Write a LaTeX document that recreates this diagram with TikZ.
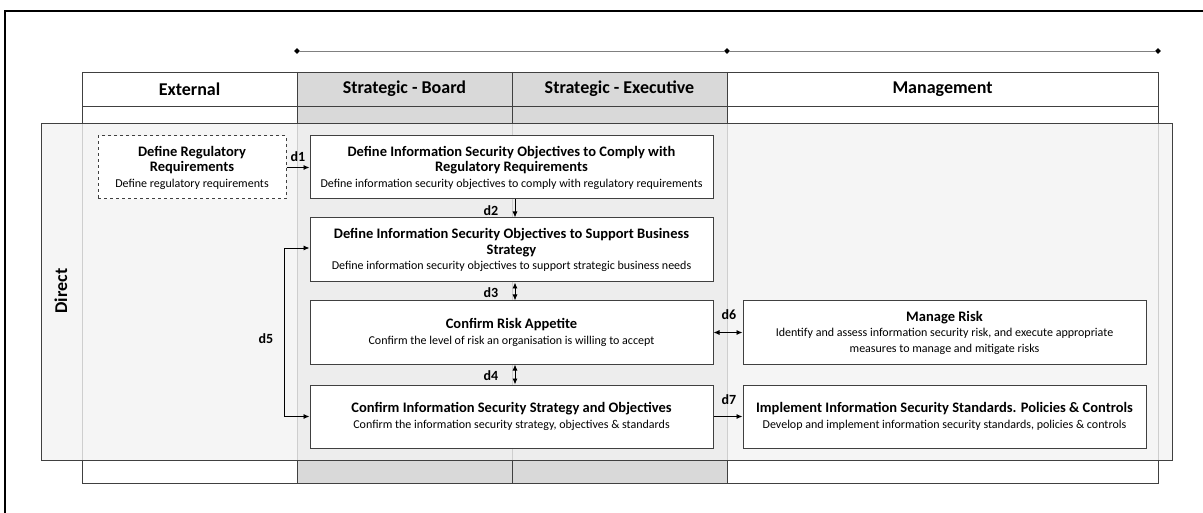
\documentclass[tikz,border=0pt]{standalone}
\usepackage{fontspec}
\setmainfont{Carlito}
\usetikzlibrary{arrows.meta,shapes.geometric}
\definecolor{lanegray}{HTML}{D9D9D9}
\definecolor{boxline}{HTML}{404040}
\tikzset{
  >={Latex[length=6pt,width=5pt]},
  lane/.style={draw=boxline, line width=0.9pt},
  lanehead/.style={font=\fontsize{18}{20}\selectfont\bfseries},
  procbox/.style={draw=boxline, line width=1pt, fill=white, align=center,
    minimum width=403pt, minimum height=63pt, inner sep=2pt,
    font=\fontsize{12}{15.5}\selectfont},
  flowlabel/.style={font=\fontsize{14}{16}\selectfont\bfseries},
  dia/.style={diamond, fill=black, inner sep=0pt, minimum size=6pt},
}
\newcommand{\boxtitle}{\fontsize{14.5}{15.5}\selectfont\bfseries}
\newcommand{\boxsub}{\fontsize{12}{15.5}\selectfont\mdseries}
\begin{document}
\begin{tikzpicture}[x=1pt, y=-1pt]
\useasboundingbox (0,0) rectangle (1203,513);
% frame
\draw[line width=1.6pt] (5,513) -- (5,11) -- (1203,11);
% span markers
\node[dia] (t1) at (297,51) {};
\node[dia] (t2) at (727,51) {};
\node[dia] (t3) at (1158,51) {};
\draw[gray, line width=0.8pt] (t1) -- (t2) -- (t3);
% lanes
\fill[lanegray] (297,72) rectangle (727,483);
\draw[lane] (82,72) rectangle (1158,483);
\draw[lane] (82,106) -- (1158,106);
\draw[lane] (297,72) -- (297,483);
\draw[lane] (512,72) -- (512,483);
\draw[lane] (727,72) -- (727,483);
\node[lanehead] (hext) at (189.5,89) {External};
\node[lanehead] (hboard) at (404.5,89) {Strategic - Board};
\node[lanehead] (hexec) at (619.5,89) {Strategic - Executive};
\node[lanehead] (hmgmt) at (942.5,89) {Management};
% direct band
\draw[draw=boxline, line width=0.9pt, fill=gray!10, fill opacity=0.8] (41,123) rectangle (1172,460);
\node[rotate=90, lanehead] (direct) at (61,291) {Direct};
% boxes
\node[procbox, dashed, minimum width=188pt] (reg) at (192,167.5)
  {\boxtitle Define Regulatory\\\boxtitle Requirements\\\boxsub Define regulatory requirements};
\node[procbox] (obj1) at (511.5,167.5)
  {\boxtitle Define Information Security Objectives to Comply with\\\boxtitle Regulatory Requirements\\\boxsub Define information security objectives to comply with regulatory requirements};
\node[procbox, minimum height=64pt] (obj2) at (511.5,250)
  {\boxtitle Define Information Security Objectives to Support Business\\\boxtitle Strategy\\\boxsub Define information security objectives to support strategic business needs};
\node[procbox] (risk) at (511.5,332.5)
  {\boxtitle Confirm Risk Appetite\\\boxsub Confirm the level of risk an organisation is willing to accept};
\node[procbox] (strat) at (511.5,416.5)
  {\boxtitle Confirm Information Security Strategy and Objectives\\\boxsub Confirm the information security strategy, objectives \& standards};
\node[procbox] (mrisk) at (944.5,332.5)
  {\boxtitle Manage Risk\\\boxsub Identify and assess information security risk, and execute appropriate\\\boxsub measures to manage and mitigate risks};
\node[procbox] (impl) at (944.5,416.5)
  {\boxtitle Implement Information Security Standards. Policies \& Controls\\\boxsub Develop and implement information security standards, policies \& controls};
% flows
\draw[->, line width=0.9pt] (reg.east) -- (obj1.west);
\draw[->, line width=0.9pt] ([xshift=3.5pt]obj1.south) -- ([xshift=3.5pt]obj2.north);
\draw[<->, line width=0.9pt] ([xshift=3.5pt]obj2.south) -- ([xshift=3.5pt]risk.north);
\draw[<->, line width=0.9pt] ([xshift=3.5pt]risk.south) -- ([xshift=3.5pt]strat.north);
\draw[<->, line width=0.9pt] ([yshift=2pt]obj2.west) -- ++(-25,0) |- (strat.west);
\draw[<->, line width=0.9pt] (risk.east) -- (mrisk.west);
\draw[->, line width=0.9pt] (strat.east) -- (impl.west);
\node[flowlabel] (l1) at (298,157) {d1};
\node[flowlabel] (l2) at (491,211) {d2};
\node[flowlabel] (l3) at (491,293) {d3};
\node[flowlabel] (l4) at (491,376) {d4};
\node[flowlabel] (l5) at (266,339) {d5};
\node[flowlabel] (l6) at (729,315) {d6};
\node[flowlabel] (l7) at (729,400) {d7};
\end{tikzpicture}
\end{document}
